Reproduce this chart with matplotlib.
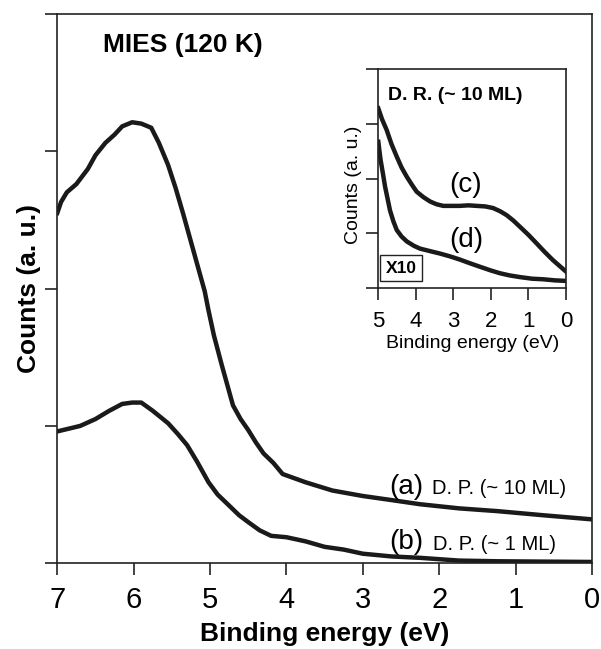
import matplotlib
matplotlib.use('Agg')
import matplotlib.pyplot as plt

plt.rcParams['font.family'] = ['Liberation Sans', 'DejaVu Sans']

# curve (a) D. P. (~ 10 ML)
energy_a = [7.0, 6.95, 6.875, 6.75, 6.6, 6.5, 6.37, 6.25, 6.15, 6.02, 5.9,
            5.77, 5.67, 5.55, 5.45, 5.35, 5.25, 5.15, 5.07, 5.02, 4.95, 4.85,
            4.77, 4.7, 4.6, 4.5, 4.4, 4.3, 4.17, 4.05, 3.9, 3.75, 3.4, 3.0,
            2.62, 2.25, 1.74, 1.24, 0.64, 0.0]
counts_a = [2.55, 2.63, 2.70, 2.76, 2.87, 2.97, 3.06, 3.12, 3.18, 3.21, 3.20,
            3.17, 3.06, 2.90, 2.73, 2.54, 2.34, 2.14, 1.98, 1.84, 1.66, 1.45,
            1.29, 1.15, 1.05, 0.97, 0.88, 0.80, 0.73, 0.65, 0.62, 0.59, 0.53,
            0.49, 0.46, 0.43, 0.40, 0.38, 0.35, 0.32]

# curve (b) D. P. (~ 1 ML)
energy_b = [7.0, 6.85, 6.7, 6.5, 6.32, 6.15, 6.02, 5.9, 5.75, 5.55, 5.42,
            5.3, 5.17, 5.02, 4.9, 4.75, 4.62, 4.5, 4.35, 4.2, 4.0, 3.75, 3.5,
            3.25, 3.0, 2.62, 2.25, 1.74, 1.24, 0.0]
counts_b = [0.96, 0.98, 1.00, 1.05, 1.11, 1.16, 1.17, 1.17, 1.11, 1.02, 0.94,
            0.86, 0.74, 0.59, 0.50, 0.42, 0.35, 0.30, 0.24, 0.20, 0.19, 0.16,
            0.12, 0.10, 0.07, 0.05, 0.04, 0.02, 0.015, 0.01]

# inset curve (c)
energy_c = [5.0, 4.9, 4.78, 4.65, 4.51, 4.38, 4.24, 4.1, 3.98, 3.8, 3.62,
            3.45, 3.27, 3.05, 2.83, 2.6, 2.38, 2.15, 1.94, 1.75, 1.58, 1.4,
            1.23, 1.0, 0.79, 0.57, 0.35, 0.15, 0.0]
counts_c = [3.28, 3.08, 2.89, 2.63, 2.40, 2.20, 2.03, 1.88, 1.76, 1.66, 1.58,
            1.53, 1.50, 1.50, 1.50, 1.51, 1.50, 1.49, 1.46, 1.40, 1.33, 1.23,
            1.12, 0.97, 0.82, 0.66, 0.51, 0.39, 0.30]

# inset curve (d)
energy_d = [5.0, 4.97, 4.94, 4.88, 4.82, 4.75, 4.69, 4.6, 4.51, 4.38, 4.24,
            4.05, 3.89, 3.6, 3.36, 3.1, 2.83, 2.55, 2.3, 2.0, 1.76, 1.5, 1.23,
            0.9, 0.61, 0.3, 0.0]
counts_d = [2.67, 2.50, 2.34, 2.10, 1.85, 1.62, 1.42, 1.22, 1.06, 0.94, 0.85,
            0.77, 0.72, 0.67, 0.63, 0.58, 0.52, 0.45, 0.39, 0.32, 0.27, 0.23,
            0.20, 0.17, 0.16, 0.14, 0.13]

main_xticks = [7, 6, 5, 4, 3, 2, 1, 0]
inset_xticks = [5, 4, 3, 2, 1, 0]
yticks = [0, 1, 2, 3, 4]

line_color = '#1a1a1a'
spine_color = '#222222'

fig = plt.figure(figsize=(6.01, 6.49), dpi=100)
ax = fig.add_axes([0.0953, 0.1320, 0.8897, 0.8469])

ax.plot(energy_a, counts_a, color=line_color, lw=3.2, solid_joinstyle='round')
ax.plot(energy_b, counts_b, color=line_color, lw=3.2, solid_joinstyle='round')
ax.set_xlim(7, 0)
ax.set_ylim(0, 4)
ax.set_xticks(main_xticks)
ax.set_yticks(yticks)
ax.set_yticklabels([])
ax.tick_params(direction='out', length=8.6, width=1.2, color=spine_color,
               labelsize=21, pad=8)
for s in ax.spines.values():
    s.set_linewidth(1.2)
    s.set_color(spine_color)

ax.set_xlabel('Binding energy (eV)', fontsize=19, fontweight='bold')
ax.xaxis.set_label_coords(0.5, -0.107)
ax.set_ylabel('Counts (a. u.)', fontsize=19, fontweight='bold')
ax.yaxis.set_label_coords(-0.03, 0.5)

ax.text(0.085, 0.943, 'MIES (120 K)', transform=ax.transAxes, fontsize=19,
        fontweight='bold', ha='left', va='center')

ax.text(0.653, 0.126, '(a)', transform=ax.transAxes, fontsize=20,
        ha='center', va='baseline')
ax.text(0.700, 0.126, 'D. P. (~ 10 ML)', transform=ax.transAxes, fontsize=14.5,
        ha='left', va='baseline')
ax.text(0.653, 0.026, '(b)', transform=ax.transAxes, fontsize=20,
        ha='center', va='baseline')
ax.text(0.703, 0.024, 'D. P. (~ 1 ML)', transform=ax.transAxes, fontsize=14.5,
        ha='left', va='baseline')

# inset
ins = fig.add_axes([0.6295, 0.5562, 0.3123, 0.3375])
ins.plot(energy_c, counts_c, color=line_color, lw=3.2, solid_joinstyle='round')
ins.plot(energy_d, counts_d, color=line_color, lw=3.2, solid_joinstyle='round')
ins.set_xlim(5, 0)
ins.set_ylim(0, 4)
ins.set_xticks(inset_xticks)
ins.set_yticks(yticks)
ins.set_yticklabels([])
ins.tick_params(direction='out', length=8.6, width=1.2, color=spine_color,
                labelsize=16, pad=8)
for s in ins.spines.values():
    s.set_linewidth(1.2)
    s.set_color(spine_color)

ins.set_xlabel('Binding energy (eV)', fontsize=14)
ins.xaxis.set_label_coords(0.5, -0.215)
ins.set_ylabel('Counts (a. u.)', fontsize=14)
ins.yaxis.set_label_coords(-0.087, 0.47)

ins.text(0.053, 0.881, 'D. R. (~ 10 ML)', transform=ins.transAxes,
         fontsize=14, fontweight='bold', ha='left', va='center')
ins.text(0.467, 0.44, '(c)', transform=ins.transAxes, fontsize=20,
         ha='center', va='baseline')
ins.text(0.467, 0.189, '(d)', transform=ins.transAxes, fontsize=20,
         ha='center', va='baseline')
ins.text(0.121, 0.091, 'X10', transform=ins.transAxes, fontsize=12.5,
         fontweight='bold', ha='center', va='center',
         bbox=dict(boxstyle='square,pad=0.3', fc='white', ec=spine_color, lw=1))

fig.savefig('out.png', dpi=100)
